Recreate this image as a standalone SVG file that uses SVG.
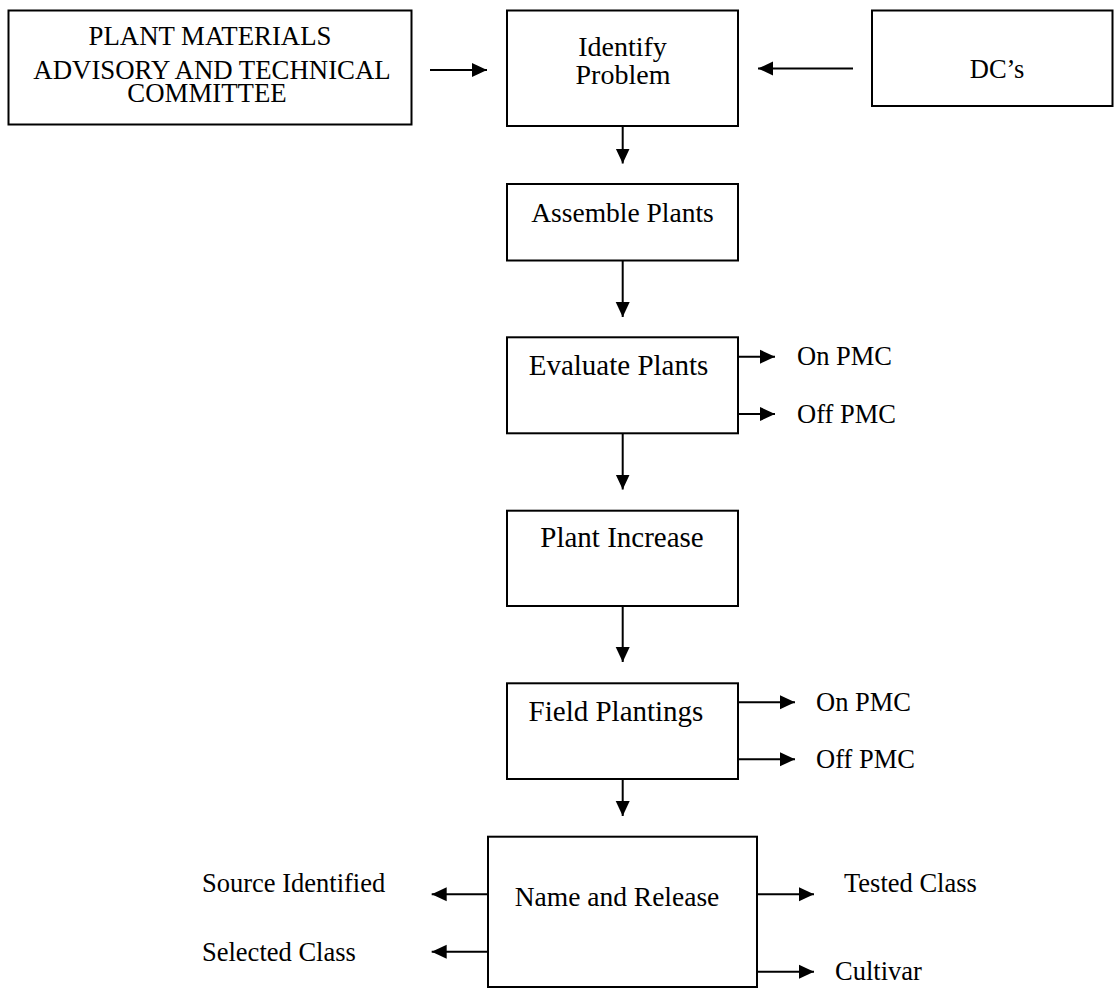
<svg xmlns="http://www.w3.org/2000/svg" width="1115" height="990" viewBox="0 0 1115 990">
<style>
.box{fill:#fff;stroke:#000;stroke-width:2}
.lbl{font-family:"Liberation Serif","Times New Roman",serif;fill:#000;text-anchor:middle}
.side{font-family:"Liberation Serif","Times New Roman",serif;fill:#000;font-size:26.5px}
.con{stroke:#000;stroke-width:2;fill:none;marker-end:url(#ah)}
</style>
<defs>
<marker id="ah" markerUnits="userSpaceOnUse" markerWidth="16" markerHeight="16" refX="15" refY="7.5" orient="auto">
<path d="M0,0.5 L15,7.5 L0,14.5 z" fill="#000"/>
</marker>
</defs>
<rect width="1115" height="990" fill="#fff"/>
<g id="connectors">
<line class="con" x1="430" y1="70" x2="487" y2="70"/>
<line class="con" x1="853" y1="68.5" x2="758" y2="68.5"/>
<line class="con" x1="622.7" y1="126" x2="622.7" y2="163.5"/>
<line class="con" x1="622.7" y1="260.5" x2="622.7" y2="317"/>
<line class="con" x1="622.7" y1="433.5" x2="622.7" y2="489.5"/>
<line class="con" x1="622.7" y1="606" x2="622.7" y2="662"/>
<line class="con" x1="622.7" y1="779" x2="622.7" y2="816"/>
<line class="con" x1="738" y1="356.7" x2="775" y2="356.7"/>
<line class="con" x1="738" y1="414" x2="775" y2="414"/>
<line class="con" x1="738" y1="702.3" x2="795" y2="702.3"/>
<line class="con" x1="738" y1="759.3" x2="795" y2="759.3"/>
<line class="con" x1="488" y1="894.3" x2="431.7" y2="894.3"/>
<line class="con" x1="488" y1="951.7" x2="431.7" y2="951.7"/>
<line class="con" x1="757" y1="894.3" x2="814" y2="894.3"/>
<line class="con" x1="757" y1="971.7" x2="814" y2="971.7"/>
</g>
<g id="pmatc">
<rect class="box" x="8.5" y="10.5" width="403" height="114"/>
<text class="lbl" font-size="26.8" x="210" y="45">PLANT MATERIALS</text>
<text class="lbl" font-size="26.8" x="212" y="79">ADVISORY AND TECHNICAL</text>
<text class="lbl" font-size="26.8" x="207" y="102">COMMITTEE</text>
</g>
<g id="identify">
<rect class="box" x="507" y="10.5" width="231" height="115.5"/>
<text class="lbl" font-size="28" x="622.5" y="55.5">Identify</text>
<text class="lbl" font-size="28" x="623" y="83.5">Problem</text>
</g>
<g id="dcs">
<rect class="box" x="872" y="10.5" width="240.5" height="95.5"/>
<text class="lbl" font-size="26.5" x="997" y="78">DC’s</text>
</g>
<g id="assemble">
<rect class="box" x="507" y="184" width="231" height="76.5"/>
<text class="lbl" font-size="27.5" x="622.5" y="221.7">Assemble Plants</text>
</g>
<g id="evaluate">
<rect class="box" x="507" y="337.3" width="231" height="96"/>
<text class="lbl" font-size="29" x="618.5" y="375">Evaluate Plants</text>
<text class="side" font-size="27" x="797" y="365">On PMC</text>
<text class="side" font-size="27" x="797" y="422.7">Off PMC</text>
</g>
<g id="increase">
<rect class="box" x="507" y="510.7" width="231" height="95.3"/>
<text class="lbl" font-size="29" x="622" y="547.3">Plant Increase</text>
</g>
<g id="field">
<rect class="box" x="507" y="683.3" width="231" height="95.7"/>
<text class="lbl" font-size="29" x="616" y="720.7">Field Plantings</text>
<text class="side" x="816" y="710.7">On PMC</text>
<text class="side" x="816" y="768.3">Off PMC</text>
</g>
<g id="release">
<rect class="box" x="488" y="836.7" width="269" height="150.3"/>
<text class="lbl" font-size="27.5" x="617" y="906">Name and Release</text>
<text class="side" x="202" y="891.7">Source Identified</text>
<text class="side" x="202" y="961">Selected Class</text>
<text class="side" x="844" y="891.7">Tested Class</text>
<text class="side" x="835" y="980">Cultivar</text>
</g>
</svg>
